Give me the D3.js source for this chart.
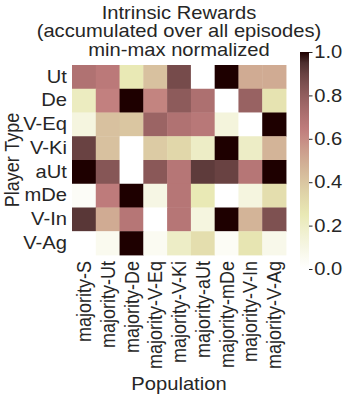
<!DOCTYPE html>
<html>
<head>
<meta charset="utf-8">
<script src="https://cdn.jsdelivr.net/npm/d3@7"></script>
<style>
  body { margin: 0; background: #fff; }
  text { font-family: "Liberation Sans", Arial, sans-serif; fill: #262626; }
</style>
</head>
<body>
<svg id="chart"></svg>
<script>
'use strict';

var WIDTH = 346;
var HEIGHT = 398;
// the reference looks stretched horizontally, text included
var SX = 1.12;

var titleLines = ["Intrinsic Rewards", "(accumulated over all episodes)", "min-max normalized"];
var playerTypes = ["Ut", "De", "V-Eq", "V-Ki", "aUt", "mDe", "V-In", "V-Ag"];
var populations = ["majority-S", "majority-Ut", "majority-De", "majority-V-Eq", "majority-V-Ki",
  "majority-aUt", "majority-mDe", "majority-V-In", "majority-V-Ag"];
var cbTicks = [0.0, 0.2, 0.4, 0.6, 0.8, 1.0];

// one row per player type, one value per population
var rowUt   = [0.70, 0.66, 0.25, 0.42, 0.87, 0.00, 1.00, 0.50, 0.50];
var rowDe   = [0.22, 0.63, 1.00, 0.62, 0.81, 0.71, 0.00, 0.78, 0.28];
var rowVEq  = [0.12, 0.42, 0.40, 0.77, 0.70, 0.67, 0.13, 0.00, 1.00];
var rowVKi  = [0.90, 0.42, 0.00, 0.38, 0.33, 0.20, 1.00, 0.20, 0.47];
var rowAUt  = [1.00, 0.83, 0.00, 0.82, 0.68, 0.92, 0.90, 0.68, 1.00];
var rowMDe  = [0.03, 0.65, 1.00, 0.10, 0.68, 0.25, 0.00, 0.12, 0.30];
var rowVIn  = [0.93, 0.50, 0.68, 0.00, 0.68, 0.12, 1.00, 0.47, 0.85];
var rowVAg  = [0.00, 0.06, 1.00, 0.05, 0.20, 0.30, 0.04, 0.27, 0.08];
var values = [rowUt, rowDe, rowVEq, rowVKi, rowAUt, rowMDe, rowVIn, rowVAg];

// matplotlib "pink" = sqrt((2*gray + hot)/3); reversed here
function clip(v) { return Math.max(0, Math.min(1, v)); }
function pinkR(v) {
  var x = 1 - v;
  var hr = 0.0416 + (1 - 0.0416) * clip(x / 0.365079);
  var hg = clip((x - 0.365079) / (0.746032 - 0.365079));
  var hb = clip((x - 0.746032) / (1 - 0.746032));
  var r = Math.sqrt((2 * x + hr) / 3);
  var g = Math.sqrt((2 * x + hg) / 3);
  var b = Math.sqrt((2 * x + hb) / 3);
  return d3.rgb(r * 255, g * 255, b * 255).toString();
}

var svg = d3.select("#chart").attr("width", WIDTH).attr("height", HEIGHT);
var root = svg.append("g").attr("transform", "scale(" + SX + ",1)");

// pixel positions, divided by SX for the inner coordinate system
var mLeft = 72 / SX, mRight = 286 / SX, mTop = 65, mBottom = 255;

var x = d3.scaleBand().domain(populations).range([mLeft, mRight]);
var y = d3.scaleBand().domain(playerTypes).range([mTop, mBottom]);

var cells = [];
values.forEach(function(row, i) {
  row.forEach(function(v, j) {
    cells.push({ p: playerTypes[i], q: populations[j], v: v });
  });
});

root.append("g").selectAll("rect")
.data(cells)
.enter().append("rect")
.attr("x", function(d) { return x(d.q); })
.attr("y", function(d) { return y(d.p); })
.attr("width", x.bandwidth() + 0.4)
.attr("height", y.bandwidth() + 0.4)
.attr("fill", function(d) { return pinkR(d.v); });

// title
root.append("g").selectAll("text")
.data(titleLines)
.enter().append("text")
.attr("x", (mLeft + mRight) / 2)
.attr("y", function(d, i) { return 19 + i * 18.5; })
.attr("text-anchor", "middle")
.style("font-size", "18px")
.text(function(d) { return d; });

// y axis
var yAxis = root.append("g")
.attr("transform", "translate(" + mLeft + ",0)")
.call(d3.axisLeft(y).tickSize(0).tickPadding(4.5));
yAxis.select(".domain").remove();
yAxis.selectAll("text").style("font-size", "18px").attr("fill", "#262626");

// x axis
var xAxis = root.append("g")
.attr("transform", "translate(0," + mBottom + ")")
.call(d3.axisBottom(x).tickSize(0));
xAxis.select(".domain").remove();
xAxis.selectAll("text")
.style("font-size", "18px")
.attr("fill", "#262626")
.attr("text-anchor", "end")
.attr("dy", "0.35em")
.attr("transform", "rotate(-90)")
.attr("x", -6)
.attr("y", 0);

root.append("text")
.attr("x", (mLeft + mRight) / 2)
.attr("y", 390)
.attr("text-anchor", "middle")
.style("font-size", "18px")
.text("Population");

root.append("text")
.attr("transform", "translate(" + (18.5 / SX) + "," + ((mTop + mBottom) / 2) + ") rotate(-90)")
.attr("text-anchor", "middle")
.style("font-size", "18px")
.text("Player Type");

// colorbar
var cbX = 300 / SX, cbW = 9 / SX, cbTop = 52, cbBottom = 269;
var cbScale = d3.scaleLinear().domain([0, 1]).range([cbBottom, cbTop]);

var defs = svg.append("defs");
var grad = defs.append("linearGradient")
.attr("id", "cbgrad")
.attr("x1", 0).attr("y1", 1).attr("x2", 0).attr("y2", 0);
d3.range(0, 1.0001, 0.05).forEach(function(t) {
  grad.append("stop").attr("offset", t).attr("stop-color", pinkR(t));
});

root.append("rect")
.attr("x", cbX)
.attr("y", cbTop)
.attr("width", cbW)
.attr("height", cbBottom - cbTop)
.attr("fill", "url(#cbgrad)");

var cbAxis = root.append("g")
.attr("transform", "translate(" + (cbX + cbW) + ",0)")
.call(d3.axisRight(cbScale).tickValues(cbTicks).tickFormat(d3.format(".1f")).tickSize(3.5 / SX).tickPadding(1.5));
cbAxis.select(".domain").remove();
cbAxis.selectAll("line").attr("stroke", "#262626");
cbAxis.selectAll("text").style("font-size", "18px").attr("fill", "#262626");
</script>
</body>
</html>
